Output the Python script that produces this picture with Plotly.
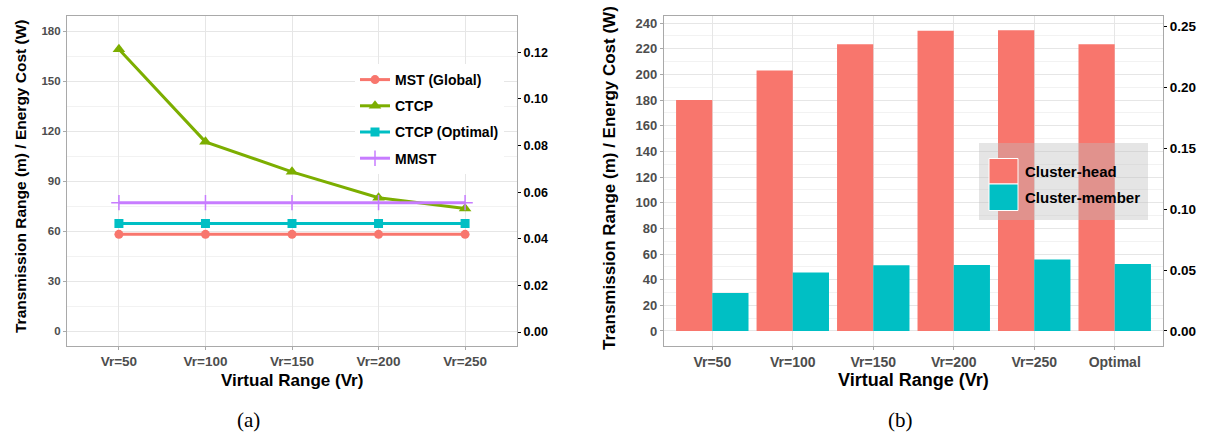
import plotly.graph_objects as go

# ---- data -------------------------------------------------------------
vr_line = ["Vr=50", "Vr=100", "Vr=150", "Vr=200", "Vr=250"]
mst_global = [58, 58, 58, 58, 58]
ctcp = [169, 113.5, 95.5, 80, 73.5]
ctcp_optimal = [64.5, 64.5, 64.5, 64.5, 64.5]
mmst = [77, 77, 77, 77, 77]

vr_bar = ["Vr=50", "Vr=100", "Vr=150", "Vr=200", "Vr=250", "Optimal"]
cluster_head = [180, 203, 223.5, 234, 234.3, 223.5]
cluster_member = [29.6, 45.6, 51.2, 51.4, 55.8, 52.2]

left_ticks = [0, 30, 60, 90, 120, 150, 180]
left_sec_ticks = [0.00, 0.02, 0.04, 0.06, 0.08, 0.10, 0.12]
right_ticks = [0, 20, 40, 60, 80, 100, 120, 140, 160, 180, 200, 220, 240]
right_sec_ticks = [0.00, 0.05, 0.10, 0.15, 0.20, 0.25]

# ---- styling ----------------------------------------------------------
W, H = 1207, 436
FONT = "Liberation Sans, Arial, sans-serif"
RED, GREEN, CYAN, PURPLE = "#F8766D", "#7CAE00", "#00BFC4", "#C77CFF"
BORDER = "#a9a9a9"
GRID = "#e6e6e6"
MINOR = "#f2f2f2"
TICKTXT = "#4d4d4d"


def px_x(v):
    return v / W


def px_y(v):
    return 1 - v / H


top, bottom = 16, 346
ydom = [px_y(bottom), px_y(top)]

fig = go.Figure()

# ---- (a) line chart ---------------------------------------------------
series = [
    ("MST (Global)", mst_global, RED, dict(symbol="circle", size=9)),
    ("CTCP", ctcp, GREEN, dict(symbol="triangle-up", size=11)),
    ("CTCP (Optimal)", ctcp_optimal, CYAN, dict(symbol="square", size=9)),
    ("MMST", mmst, PURPLE, dict(symbol="cross-thin", size=11,
                               line=dict(width=1.5, color=PURPLE))),
]
for name, vals, col, mk in series:
    fig.add_trace(go.Scatter(
        x=vr_line, y=vals, name=name, mode="lines+markers",
        line=dict(color=col, width=3), marker=dict(color=col, **mk),
        xaxis="x", yaxis="y", legendgroup=name, legend="legend",
    ))

# ---- (b) grouped bars -------------------------------------------------
fig.add_trace(go.Bar(x=vr_bar, y=cluster_head, name="Cluster-head",
                     marker=dict(color=RED, line=dict(width=0)),
                     xaxis="x2", yaxis="y2", showlegend=False))
fig.add_trace(go.Bar(x=vr_bar, y=cluster_member, name="Cluster-member",
                     marker=dict(color=CYAN, line=dict(width=0)),
                     xaxis="x2", yaxis="y2", showlegend=False))

tickfont_l = dict(family=FONT, size=11.5, color=TICKTXT, weight="bold")
tickfont_x = dict(family=FONT, size=13.5, color=TICKTXT, weight="bold")
tickfont_sec = dict(family=FONT, size=12.5, color="black", weight="bold")

common_x = dict(type="category", showgrid=True, gridcolor=GRID, gridwidth=1,
                ticks="outside", ticklen=3, tickcolor=BORDER, showline=True,
                linecolor=BORDER, linewidth=1.2, mirror=True, zeroline=False)
common_y = dict(showgrid=True, gridcolor=GRID, gridwidth=1, ticks="outside",
                ticklen=3, tickcolor=BORDER, showline=True, linecolor=BORDER,
                linewidth=1.2, mirror=True, zeroline=False)

fig.update_layout(
    width=W, height=H, margin=dict(l=0, r=0, t=0, b=0),
    paper_bgcolor="white", plot_bgcolor="white",
    bargap=0.1, bargroupgap=0, barmode="group",
    xaxis=dict(domain=[px_x(67), px_x(517)], range=[-0.6, 4.6],
               tickfont=tickfont_x, anchor="y", **common_x),
    yaxis=dict(domain=ydom, range=[-9, 189], tickvals=left_ticks,
               tickfont=tickfont_l, anchor="x",
               minor=dict(tickvals=[15, 45, 75, 105, 135, 165], showgrid=True,
                          gridcolor=MINOR, ticks=""),
               **common_y),
    yaxis3=dict(overlaying="y", side="right", anchor="x", range=[-0.006, 0.1356],
                tickvals=left_sec_ticks, tickformat=".2f", showgrid=False,
                zeroline=False, ticks="outside", ticklen=3, tickcolor="black",
                tickfont=tickfont_sec, showline=False),
    xaxis2=dict(domain=[px_x(664), px_x(1163)], range=[-0.6, 5.6],
                tickfont=dict(family=FONT, size=14, color=TICKTXT, weight="bold"),
                anchor="y2", **common_x),
    yaxis2=dict(domain=ydom, range=[-11.7, 245.5], tickvals=right_ticks,
                tickfont=dict(family=FONT, size=13, color=TICKTXT, weight="bold"),
                anchor="x2",
                minor=dict(tickvals=[10, 30, 50, 70, 90, 110, 130, 150, 170, 190,
                                     210, 230], showgrid=True, gridcolor=MINOR,
                           ticks=""),
                **common_y),
    yaxis4=dict(overlaying="y2", side="right", anchor="x2",
                range=[-0.0123, 0.2582], tickvals=right_sec_ticks,
                tickformat=".2f", showgrid=False, zeroline=False,
                ticks="outside", ticklen=3, tickcolor="black",
                tickfont=dict(family=FONT, size=13.5, color="black", weight="bold"),
                showline=False),
    legend=dict(x=px_x(355), y=px_y(64), xanchor="left", yanchor="top",
                bgcolor="white", borderwidth=0, tracegroupgap=5,
                font=dict(family=FONT, size=14, color="black", weight="bold")),
)

# invisible anchors so the secondary axes are drawn
fig.add_trace(go.Scatter(x=[], y=[], xaxis="x", yaxis="y3", showlegend=False))
fig.add_trace(go.Scatter(x=[], y=[], xaxis="x2", yaxis="y4", showlegend=False))

# ---- legend for (b): translucent panel with square keys ---------------
shapes = [
    dict(type="rect", xref="paper", yref="paper", x0=px_x(979), x1=px_x(1148),
         y0=px_y(220), y1=px_y(143), fillcolor="rgba(190,190,190,0.4)",
         line=dict(width=0), layer="above"),
    dict(type="rect", xref="paper", yref="paper", x0=px_x(989), x1=px_x(1018),
         y0=px_y(184), y1=px_y(158.5), fillcolor=RED,
         line=dict(width=1, color="white"), layer="above"),
    dict(type="rect", xref="paper", yref="paper", x0=px_x(989), x1=px_x(1018),
         y0=px_y(210.5), y1=px_y(184), fillcolor=CYAN,
         line=dict(width=1, color="white"), layer="above"),
]
fig.update_layout(shapes=shapes)

annots = [
    dict(text="Cluster-head", x=px_x(1023), y=px_y(171.5)),
    dict(text="Cluster-member", x=px_x(1023), y=px_y(197.5)),
]
for a in annots:
    fig.add_annotation(xref="paper", yref="paper", xanchor="left",
                       yanchor="middle", showarrow=False,
                       font=dict(family=FONT, size=15, color="black", weight="bold"),
                       **a)

# ---- axis titles and captions ----------------------------------------
ytitle = "Transmission Range (m) / Energy Cost (W)"
xtitle = "Virtual Range (Vr)"
title_font = dict(family=FONT, color="black", weight="bold")
fig.add_annotation(text=ytitle, x=px_x(20), y=px_y(176), xref="paper", yref="paper",
                   textangle=-90, showarrow=False, xanchor="center", yanchor="middle",
                   font=dict(size=15.5, **title_font))
fig.add_annotation(text=ytitle, x=px_x(609), y=px_y(178), xref="paper", yref="paper",
                   textangle=-90, showarrow=False, xanchor="center", yanchor="middle",
                   font=dict(size=17, **title_font))
fig.add_annotation(text=xtitle, x=px_x(292), y=px_y(380), xref="paper", yref="paper",
                   showarrow=False, xanchor="center", yanchor="middle",
                   font=dict(size=17, **title_font))
fig.add_annotation(text=xtitle, x=px_x(913), y=px_y(380), xref="paper", yref="paper",
                   showarrow=False, xanchor="center", yanchor="middle",
                   font=dict(size=18, **title_font))

cap_font = dict(family="Liberation Serif, Times New Roman, serif", size=21, color="black")
fig.add_annotation(text="(a)", x=px_x(248.5), y=px_y(420), xref="paper", yref="paper",
                   showarrow=False, xanchor="center", yanchor="middle", font=cap_font)
fig.add_annotation(text="(b)", x=px_x(900), y=px_y(420), xref="paper", yref="paper",
                   showarrow=False, xanchor="center", yanchor="middle", font=cap_font)

fig.write_html("out.html")
